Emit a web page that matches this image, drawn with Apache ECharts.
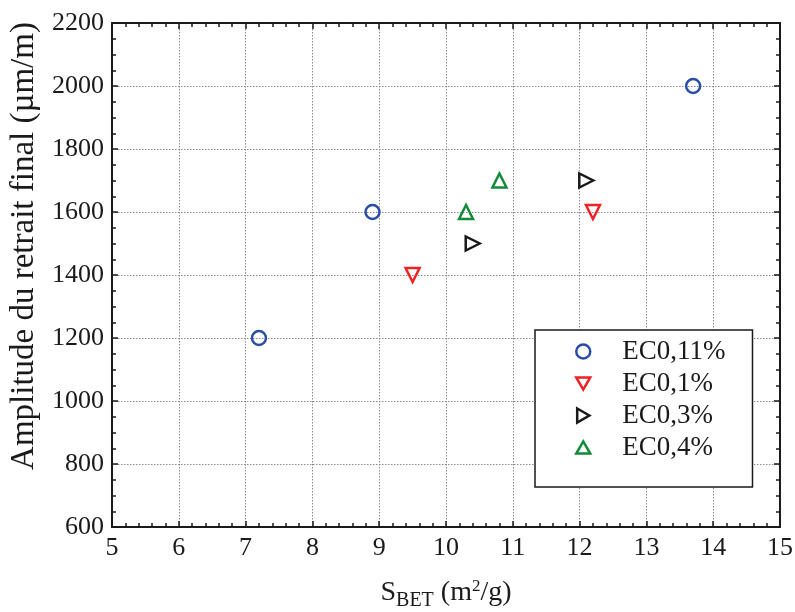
<!DOCTYPE html>
<html><head><meta charset="utf-8">
<script src="https://cdn.jsdelivr.net/npm/echarts@6/dist/echarts.min.js"></script>
<style>html,body{margin:0;padding:0;background:#fff}#c{width:795px;height:612px}</style>
</head><body><div id="c"></div>
<script>
const seriesNames = ['EC0,11%', 'EC0,1%', 'EC0,3%', 'EC0,4%'];
const ec011 = [[7.2, 1200], [8.9, 1600], [13.7, 2000]];
const ec01 = [[9.5, 1400], [12.2, 1600]];
const ec03 = [[10.4, 1500], [12.1, 1700]];
const ec04 = [[10.3, 1600], [10.8, 1700]];
const xRange = [5, 15];
const yRange = [600, 2200];

const FONT = '"Liberation Serif"';
const INK = '#1a1a1a';
const chart = echarts.init(document.getElementById('c'));

const colors = ['#2a4ea6', '#ee2222', '#1a1a1a', '#138a3a'];
const icons = [
  'circle',
  'path://M0,0L10,0L5,8.66Z',
  'path://M0,0L8.66,5L0,10Z',
  'path://M5,0L10,8.66L0,8.66Z'
];

function ax(extra, showLabel, splitN, grid) {
  return Object.assign({
    type: 'value',
    axisLine: { show: true, lineStyle: { color: INK, width: 2 } },
    axisTick: { show: true, inside: true, length: 6, lineStyle: { color: INK, width: 1.5 } },
    minorTick: { show: true, splitNumber: splitN, length: 4, lineStyle: { color: INK, width: 1.5 } },
    axisLabel: { show: showLabel, color: INK, fontFamily: FONT, fontSize: 26, margin: 8, formatter: v => String(v) },
    splitLine: { show: grid, lineStyle: { color: '#8a8a8a', type: [1.5, 1.5], width: 1 } }
  }, extra);
}

const mk = (i, data, symbol, rot) => ({
  name: seriesNames[i], type: 'scatter', data, symbol, symbolRotate: rot, symbolSize: 14,
  itemStyle: { color: 'rgba(0,0,0,0)', borderColor: colors[i], borderWidth: 2.5, opacity: 1 }
});

chart.setOption({
  animation: false,
  backgroundColor: '#fff',
  grid: { left: 112, right: 15, top: 23, bottom: 85, outerBoundsMode: 'none', containLabel: false },
  xAxis: [
    ax({
      min: xRange[0], max: xRange[1], interval: 1, position: 'bottom',
      name: '{n|S}{s|BET}{n| (m}{p|2}{n|/g)}',
      nameLocation: 'middle', nameGap: 48,
      nameTextStyle: {
        rich: {
          n: { fontFamily: FONT, fontSize: 28, color: INK },
          s: { fontFamily: FONT, fontSize: 20, color: INK, padding: [16, 0, 0, 0] },
          p: { fontFamily: FONT, fontSize: 17, color: INK, padding: [0, 0, 13, 0] }
        }
      }
    }, true, 5, true),
    ax({ min: xRange[0], max: xRange[1], interval: 1, position: 'top' }, false, 5, false)
  ],
  yAxis: [
    ax({
      min: yRange[0], max: yRange[1], interval: 200, position: 'left',
      name: 'Amplitude du retrait final (µm/m)',
      nameLocation: 'middle', nameGap: 70, nameRotate: 90,
      nameTextStyle: { fontFamily: FONT, fontSize: 33, color: INK, padding: [0, 0, 0, 58] }
    }, true, 4, true),
    ax({ min: yRange[0], max: yRange[1], interval: 200, position: 'right' }, false, 4, false)
  ],
  legend: {
    orient: 'vertical', left: 535, top: 330,
    padding: [8, 27, 26, 40],
    borderColor: INK, borderWidth: 1.5, backgroundColor: '#fff',
    itemWidth: 14, itemHeight: 14, itemGap: 5,
    textStyle: { fontFamily: FONT, fontSize: 27, color: INK, lineHeight: 26, padding: [0, 0, 0, 27] },
    data: seriesNames.map((n, i) => ({
      name: n, icon: icons[i],
      itemStyle: { color: 'rgba(0,0,0,0)', borderColor: colors[i], borderWidth: 2.5 }
    }))
  },
  series: [
    mk(0, ec011, 'circle', 0),
    mk(1, ec01, 'triangle', 180),
    mk(2, ec03, 'triangle', -90),
    mk(3, ec04, 'triangle', 0)
  ]
});
</script></body></html>
